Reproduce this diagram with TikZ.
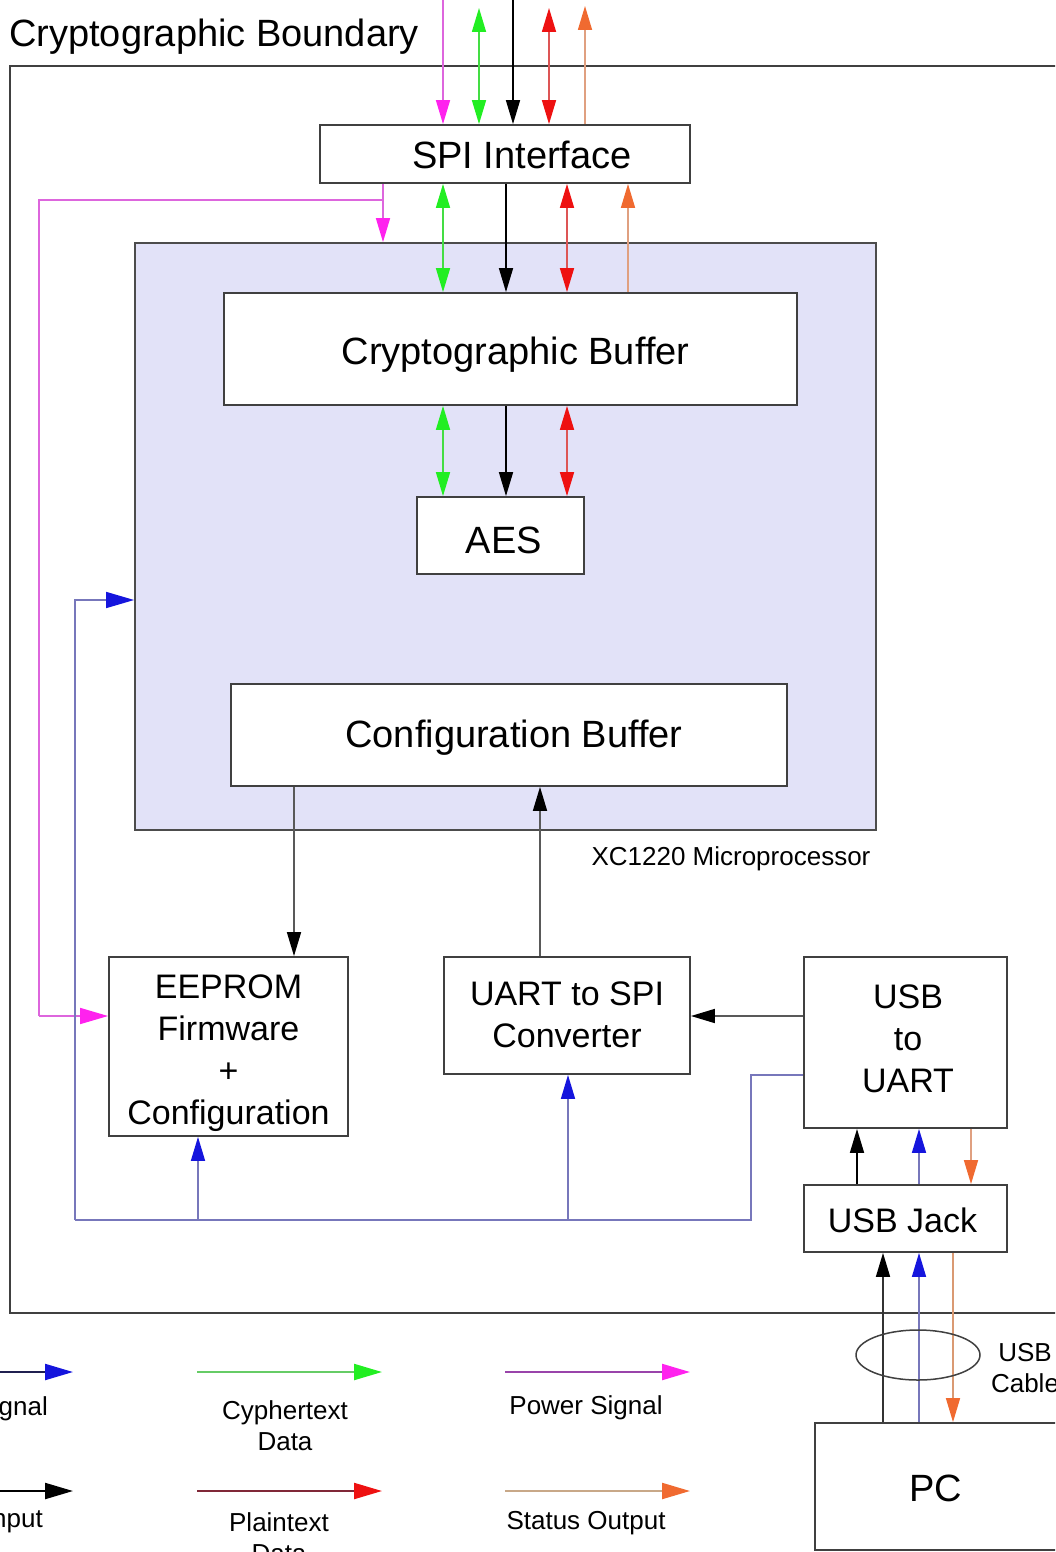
\documentclass[tikz,border=0pt]{standalone}
\usepackage{fontspec}
\setmainfont{Liberation Sans}
\usetikzlibrary{arrows.meta}
\definecolor{hmag}{HTML}{FF22EE}
\definecolor{lmag}{HTML}{DD66DD}
\definecolor{hgrn}{HTML}{22EE22}
\definecolor{lgrn}{HTML}{44DD44}
\definecolor{hred}{HTML}{EE1111}
\definecolor{lred}{HTML}{DD5555}
\definecolor{hora}{HTML}{F06A30}
\definecolor{lora}{HTML}{E0A080}
\definecolor{hblu}{HTML}{1515DD}
\definecolor{lblu}{HTML}{7777BB}
\definecolor{mcfill}{HTML}{E2E2F8}
\definecolor{lgmag}{HTML}{9944AA}
\definecolor{lgred}{HTML}{802838}
\definecolor{lgora}{HTML}{C8A888}
\definecolor{lgblu}{HTML}{202050}
\definecolor{lggrn}{HTML}{66CC66}
\newcommand{\mylines}[2]{\raisebox{#1}[\height][\depth]{\begin{tabular}{@{}c@{}}#2\end{tabular}}}
\newcommand{\dropby}[2]{\raisebox{#1}[\height][\depth]{#2}}
\begin{document}
\begin{tikzpicture}[x=1pt,y=-1pt,
  box/.style={draw=black!75, line width=1.8pt, fill=white, inner sep=0pt},
  big/.style={font=\fontsize{38}{46}\selectfont},
  mid/.style={font=\fontsize{34}{42}\selectfont, align=center},
  small/.style={font=\fontsize{26}{31}\selectfont, align=center},
  wire/.style={line width=1.6pt},
  ah/.style={-{Triangle[length=24pt,width=14pt,color=#1]}},
  dah/.style={{Triangle[length=24pt,width=14pt,color=#1]}-{Triangle[length=24pt,width=14pt,color=#1]}},
  lah/.style={-{Triangle[length=28pt,width=16pt,color=#1]}}
]
\useasboundingbox (0,0) rectangle (1055,1552);
\clip (0,0) rectangle (1055,1552);

% boundary
\draw[draw=black!75, line width=2pt] (10,66) rectangle (1080,1313);
\node[big, anchor=base west, inner sep=0pt] (title) at (9,47) {Cryptographic Boundary};

% microprocessor
\node[draw=black!70, line width=1.8pt, fill=mcfill, minimum width=741pt, minimum height=587pt, inner sep=0pt] (mc) at (505.5,536.5) {};
\node[small, anchor=center] (mclab) at (731,859) {XC1220 Microprocessor};

% boxes
\node[box, big, minimum width=370pt, minimum height=58pt] (spi) at (505,154) {\hspace*{34pt}\dropby{-1pt}{SPI Interface}};
\node[box, big, minimum width=573pt, minimum height=112pt] (cb) at (510.5,349) {\dropby{-6pt}{\hspace*{10pt}Cryptographic Buffer}};
\node[box, big, minimum width=167pt, minimum height=77pt] (aes) at (500.5,535.5) {\dropby{-5pt}{\hspace*{7pt}AES}};
\node[box, big, minimum width=556pt, minimum height=102pt] (cfg) at (509,735) {\dropby{-3pt}{\hspace*{10pt}Configuration Buffer}};
\node[box, mid, minimum width=239pt, minimum height=179pt] (eep) at (228.5,1046.5) {\mylines{-7pt}{EEPROM\\Firmware\\+\\Configuration}};
\node[box, mid, minimum width=246pt, minimum height=117pt] (uart) at (567,1015.5) {\mylines{-3pt}{UART to SPI\\Converter}};
\node[box, mid, minimum width=203pt, minimum height=171pt] (usbu) at (905.5,1042.5) {\mylines{0pt}{\hspace*{5pt}USB\\\hspace*{5pt}to\\\hspace*{5pt}UART}};
\node[box, mid, minimum width=203pt, minimum height=67pt] (jack) at (905.5,1218.5) {\dropby{-2pt}{USB Jack\hspace*{6pt}}};
\node[box, big, minimum width=242pt, minimum height=127pt] (pc) at (936,1486.5) {\dropby{-2pt}{PC}};

% helper coordinates
\coordinate (t1) at (443,0);
\coordinate (t2) at (479,8);
\coordinate (t3) at (513,0);
\coordinate (t4) at (549,8);
\coordinate (t5) at (585,6);
\coordinate (mj) at (383,200);
\coordinate (ml) at (39,200);
\coordinate (mE) at (39,1016);
\coordinate (xg) at (443,0);
\coordinate (xk) at (506,0);
\coordinate (xr) at (567,0);
\coordinate (xo) at (628,0);
\coordinate (bl) at (75,1220);
\coordinate (bt) at (75,600);
\coordinate (br) at (751,1220);
\coordinate (bu) at (751,1075);
\coordinate (b1) at (198,1220);
\coordinate (b2) at (568,1220);
\coordinate (xc) at (294,0);
\coordinate (xu) at (540,0);
\coordinate (yu) at (0,1016);
\coordinate (j1) at (857,0);
\coordinate (j2) at (919,0);
\coordinate (j3) at (971,0);
\coordinate (p1) at (883,0);
\coordinate (p2) at (919,0);
\coordinate (p3) at (953,0);

% top arrows into SPI
\draw[wire, lmag, ah=hmag] (t1) -- (spi.north -| t1);
\draw[wire, lgrn, dah=hgrn] (t2) -- (spi.north -| t2);
\draw[wire, black, ah=black] (t3) -- (spi.north -| t3);
\draw[wire, lred, dah=hred] (t4) -- (spi.north -| t4);
\draw[wire, lora, ah=hora] (spi.north -| t5) -- (t5);

% power distribution
\draw[wire, lmag] (spi.south -| mj) -- (mj) -- (ml) -- (mE);
\draw[wire, lmag, lah=hmag] (mE) -- (mE -| eep.west);
\draw[wire, lmag, ah=hmag] (mj) -- (mc.north -| mj);

% SPI <-> crypto buffer
\draw[wire, lgrn, dah=hgrn] (spi.south -| xg) -- (cb.north -| xg);
\draw[wire, black, ah=black] (spi.south -| xk) -- (cb.north -| xk);
\draw[wire, lred, dah=hred] (spi.south -| xr) -- (cb.north -| xr);
\draw[wire, lora, ah=hora] (cb.north -| xo) -- (spi.south -| xo);

% crypto buffer <-> AES
\draw[wire, lgrn, dah=hgrn] (cb.south -| xg) -- (aes.north -| xg);
\draw[wire, black, ah=black] (cb.south -| xk) -- (aes.north -| xk);
\draw[wire, lred, dah=hred] (cb.south -| xr) -- (aes.north -| xr);

% config buffer / EEPROM / UART
\draw[wire, black!65, ah=black] (cfg.south -| xc) -- (eep.north -| xc);
\draw[wire, black!65, ah=black] (uart.north -| xu) -- (cfg.south -| xu);
\draw[wire, black!65, ah=black] (usbu.west |- yu) -- (uart.east |- yu);

% blue control lines
\draw[wire, lblu] (bu -| usbu.west) -- (bu) -- (br) -- (bl);
\draw[wire, lblu, lah=hblu] (bl) -- (bt) -- (bt -| mc.west);
\draw[wire, lblu, ah=hblu] (b1) -- (b1 |- eep.south);
\draw[wire, lblu, ah=hblu] (b2) -- (b2 |- uart.south);

% USB jack <-> USB to UART
\draw[wire, black, ah=black] (jack.north -| j1) -- (usbu.south -| j1);
\draw[wire, lblu, ah=hblu] (jack.north -| j2) -- (usbu.south -| j2);
\draw[wire, lora, ah=hora] (usbu.south -| j3) -- (jack.north -| j3);

% PC <-> USB jack
\draw[wire, black!80, ah=black] (pc.north -| p1) -- (jack.south -| p1);
\draw[wire, lblu, ah=hblu] (pc.north -| p2) -- (jack.south -| p2);
\draw[wire, lora!80!brown, ah=hora] (jack.south -| p3) -- (pc.north -| p3);

% cable
\draw[black!75, line width=1.5pt] (918,1355) ellipse (62pt and 25pt);
\node[small] (cable) at (1025,1368) {USB\\Cable};

% legend
\coordinate (l1a) at (-30,1372); \coordinate (l1b) at (73,1372);
\coordinate (l2a) at (197,1372); \coordinate (l2b) at (382,1372);
\coordinate (l3a) at (505,1372); \coordinate (l3b) at (690,1372);
\coordinate (l4a) at (-30,1491); \coordinate (l4b) at (73,1491);
\coordinate (l5a) at (197,1491); \coordinate (l5b) at (382,1491);
\coordinate (l6a) at (505,1491); \coordinate (l6b) at (690,1491);
\draw[line width=2.2pt, lgblu, lah=hblu] (l1a) -- (l1b);
\draw[line width=2.2pt, lggrn, lah=hgrn] (l2a) -- (l2b);
\draw[line width=2.2pt, lgmag, lah=hmag] (l3a) -- (l3b);
\draw[line width=2.2pt, black, lah=black] (l4a) -- (l4b);
\draw[line width=2.2pt, lgred, lah=hred] (l5a) -- (l5b);
\draw[line width=2.2pt, lgora, lah=hora] (l6a) -- (l6b);
\node[small, anchor=east, inner sep=0pt] (g1) at (48,1409) {gnal};
\node[small] (g2) at (285,1426) {Cyphertext\\Data};
\node[small] (g3) at (586,1408) {Power Signal};
\node[small, anchor=east, inner sep=0pt] (g4) at (43,1522) {nput};
\node[small] (g5) at (279,1538) {Plaintext\\Data};
\node[small] (g6) at (586,1523) {Status Output};
\end{tikzpicture}
\end{document}
